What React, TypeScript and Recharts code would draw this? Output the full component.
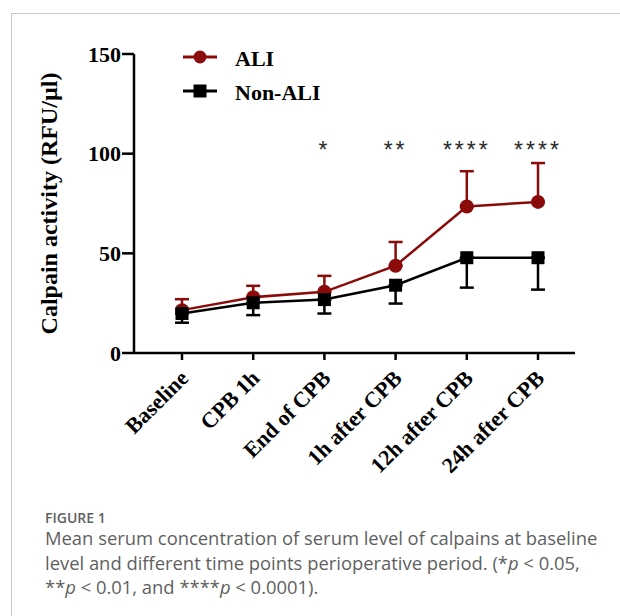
import { LineChart, Line, XAxis, YAxis, ErrorBar, ReferenceDot } from 'recharts'

const timePoints = ['Baseline', 'CPB 1h', 'End of CPB', '1h after CPB', '12h after CPB', '24h after CPB']
const aliMean = [21.5, 28, 30.7, 43.8, 73.5, 75.8]
const aliUpper = [27, 33.7, 38.7, 55.7, 91.2, 95.3]
const nonAliMean = [19.8, 25.2, 26.8, 34, 47.8, 47.8]
const nonAliLower = [15.2, 19, 19.8, 24.8, 32.8, 31.8]
const stars = ['', '', '*', '**', '****', '****']
const yTicks = [0, 50, 100, 150]
const starLevel = 102

const RED = '#8b0a0a'
const SERIF = '"Liberation Serif", "Times New Roman", serif'

const data = timePoints.map((t, i) => ({
  time: t,
  ali: aliMean[i],
  aliErr: [0, aliUpper[i] - aliMean[i]],
  nonAli: nonAliMean[i],
  nonAliErr: [nonAliMean[i] - nonAliLower[i], 0],
}))

function SquareDot({ cx, cy }: { cx?: number; cy?: number }) {
  if (cx == null || cy == null) return null
  return <rect x={cx - 6.5} y={cy - 6.5} width={13} height={13} fill="#000" />
}

function XTick({ x, y, payload }: { x?: number; y?: number; payload?: { value: string } }) {
  const tx = (x ?? 0) + 4
  const ty = (y ?? 0) + 14
  return (
    <text
      x={tx}
      y={ty}
      transform={`rotate(-45 ${tx} ${ty})`}
      textAnchor="end"
      dominantBaseline="middle"
      fontFamily={SERIF}
      fontWeight="bold"
      fontSize={22}
      fill="#000"
    >
      {payload?.value}
    </text>
  )
}

function LegendBox() {
  const rows = [
    { name: 'ALI', color: RED, square: false },
    { name: 'Non-ALI', color: '#000', square: true },
  ]
  return (
    <svg width={200} height={70} style={{ position: 'absolute', left: 180, top: 42 }}>
      {rows.map((r, i) => {
        const cy = 15 + i * 34
        return (
          <g key={r.name}>
            <line x1={3} x2={37} y1={cy} y2={cy} stroke={r.color} strokeWidth={3} />
            {r.square ? (
              <rect x={13.5} y={cy - 6.5} width={13} height={13} fill={r.color} />
            ) : (
              <circle cx={20} cy={cy} r={6.5} fill={r.color} />
            )}
            <text x={55} y={cy + 1} dominantBaseline="central" fontFamily={SERIF} fontWeight="bold" fontSize={22} fill="#000">
              {r.name}
            </text>
          </g>
        )
      })}
    </svg>
  )
}

export default function App() {
  return (
    <div style={{ position: 'absolute', left: 0, top: 0, width: 620, height: 616, background: '#fff', overflow: 'hidden' }}>
      <div style={{ position: 'absolute', left: 11, top: 13, width: 640, height: 640, borderLeft: '1.5px solid #c8c8c8', borderTop: '1.5px solid #c8c8c8' }} />
      <div style={{ position: 'absolute', left: 0, top: 0 }}>
        <LineChart width={620} height={500} data={data} margin={{ top: 54, right: 45, bottom: 27, left: 75 }}>
          <XAxis
            dataKey="time"
            padding={{ left: 48, right: 37 }}
            axisLine={{ stroke: '#000', strokeWidth: 2.5 }}
            tickLine={{ stroke: '#000', strokeWidth: 2.5 }}
            tickSize={7}
            height={120}
            interval={0}
            tick={<XTick />}
          />
          <YAxis
            domain={[0, 150]}
            ticks={yTicks}
            width={59}
            axisLine={{ stroke: '#000', strokeWidth: 2.5 }}
            tickLine={{ stroke: '#000', strokeWidth: 2.5 }}
            tickSize={12}
            tickMargin={1}
            tick={{ fill: '#000', fontFamily: SERIF, fontWeight: 'bold', fontSize: 22 }}
            label={{
              value: 'Calpain activity (RFU/µl)',
              angle: -90,
              position: 'insideLeft',
              offset: -27,
              style: { fontFamily: SERIF, fontWeight: 'bold', fontSize: 24, fill: '#000', textAnchor: 'middle' },
            }}
          />
          <Line
            dataKey="ali"
            name="ALI"
            stroke={RED}
            strokeWidth={2.5}
            isAnimationActive={false}
            dot={{ r: 7, fill: RED, stroke: RED, strokeWidth: 0 }}
          >
            <ErrorBar dataKey="aliErr" direction="y" width={7} stroke={RED} strokeWidth={2.5} />
          </Line>
          <Line
            dataKey="nonAli"
            name="Non-ALI"
            stroke="#000"
            strokeWidth={2.5}
            isAnimationActive={false}
            dot={<SquareDot />}
          >
            <ErrorBar dataKey="nonAliErr" direction="y" width={7} stroke="#000" strokeWidth={2.5} />
          </Line>
          {timePoints.map((t, i) =>
            stars[i] ? (
              <ReferenceDot
                key={t}
                x={t}
                y={starLevel}
                r={0}
                label={{
                  value: stars[i],
                  position: 'center',
                  style: { fontFamily: '"Liberation Sans", Arial, sans-serif', fontSize: 23, fill: '#2a2a2a', letterSpacing: 3 },
                }}
              />
            ) : null
          )}
        </LineChart>
      </div>
      <LegendBox />
      <div style={{ position: 'absolute', left: 45, top: 510, width: 565, fontFamily: '"Open Sans", sans-serif', color: '#5f5f5f' }}>
        <div style={{ fontSize: 14, fontWeight: 600, lineHeight: '16px' }}>FIGURE 1</div>
        <div style={{ fontSize: 18.4, lineHeight: '24.5px' }}>
          Mean serum concentration of serum level of calpains at baseline level and different time points perioperative period. (*<i>p</i> &lt; 0.05, **<i>p</i> &lt; 0.01, and ****<i>p</i> &lt; 0.0001).
        </div>
      </div>
    </div>
  )
}
